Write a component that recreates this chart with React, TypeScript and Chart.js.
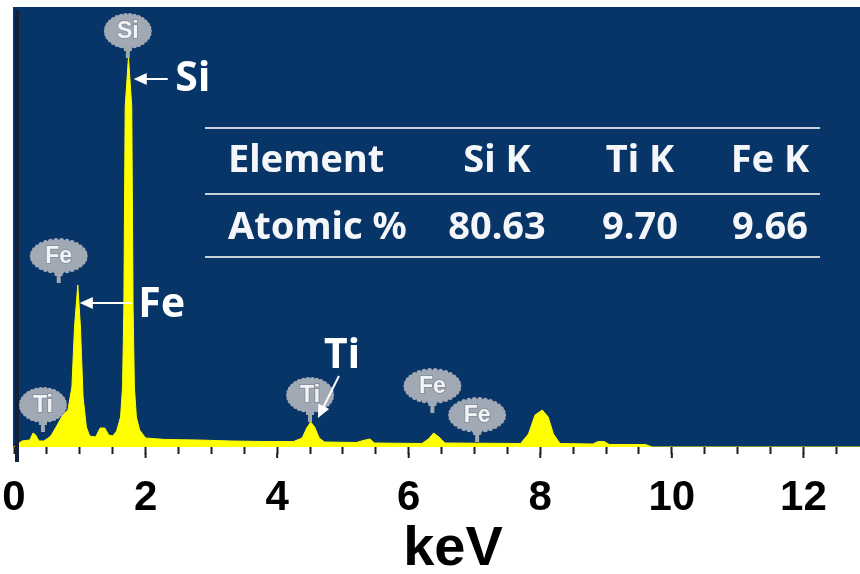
import React, { useEffect, useRef } from 'react';
import { Chart, registerables } from 'chart.js';

Chart.register(...registerables);

// EDS spectrum: photon energy (keV) and intensity (counts)
const energyKeV = [
  0, 0.06, 0.12, 0.24, 0.29, 0.33, 0.38, 0.45, 0.5, 0.56, 0.64, 0.74, 0.82, 0.88, 0.92, 0.97,
  1.01, 1.05, 1.1, 1.15, 1.24, 1.31, 1.38, 1.44, 1.5, 1.56, 1.62, 1.65, 1.67, 1.69, 1.74,
  1.79, 1.81, 1.83, 1.86, 1.91, 2.0, 2.3, 2.8, 3.3, 3.8, 4.25, 4.38, 4.45, 4.51, 4.57, 4.64,
  4.72, 5.2, 5.34, 5.41, 5.48, 6.2, 6.3, 6.38, 6.46, 6.55, 7.7, 7.82, 7.92, 8.03, 8.12, 8.2,
  8.3, 8.8, 8.88, 8.97, 9.05, 9.6, 9.7, 12.86,
];
const counts = [
  0, 30, 60, 70, 140, 120, 60, 60, 80, 110, 200, 320, 370, 600, 1200, 1620,
  1200, 500, 200, 110, 100, 190, 190, 120, 110, 160, 300, 600, 1400, 3400, 3900,
  3400, 1400, 600, 300, 170, 90, 75, 70, 60, 55, 55, 90, 190, 250, 200, 90,
  50, 45, 70, 80, 40, 35, 80, 140, 100, 40, 35, 130, 320, 370, 300, 130,
  35, 30, 55, 55, 25, 25, 0, 0,
];

const xTickLabels = [0, 2, 4, 6, 8, 10, 12];
const xAxisTitle = 'keV';

// Element markers on the spectrum
const markerElements = ['Ti', 'Fe', 'Si', 'Ti', 'Fe', 'Fe'];
const markerEnergies = [0.44, 0.68, 1.73, 4.5, 6.36, 7.04];
const markerCounts = [150, 1640, 3890, 250, 340, 50];

// Quantification table
const tableHeader = ['Element', 'Si K', 'Ti K', 'Fe K'];
const tableRowLabel = 'Atomic %';
const atomicPercent = ['80.63', '9.70', '9.66'];

// Arrow callouts: element, arrow tip (keV, counts)
const calloutElements = ['Si', 'Fe', 'Ti'];
const calloutEnergies = [1.82, 1.0, 4.62];
const calloutCounts = [3680, 1440, 290];

const BG_BLUE = '#073567';
const YELLOW = '#ffff00';
const BALLOON = '#a1a9b5';
const SANS = '"Noto Sans", "Open Sans", "Liberation Sans", sans-serif';
const AXIS_FONT = '"Liberation Sans", Arial, sans-serif';

function drawBalloon(ctx: CanvasRenderingContext2D, cx: number, bottom: number, label: string) {
  const w = label === 'Fe' ? 58 : 48;
  const h = 36;
  const stem = 9;
  const cy = bottom - stem - h / 2;
  ctx.save();
  ctx.fillStyle = BALLOON;
  ctx.fillRect(cx - 2, cy + h / 2 - 3, 4, stem + 3);
  ctx.fillRect(cx - 4, cy + h / 2 - 1, 8, 3);
  ctx.beginPath();
  ctx.ellipse(cx, cy, w / 2 - 2, h / 2 - 2, 0, 0, Math.PI * 2);
  ctx.fill();
  const n = 30;
  for (let i = 0; i < n; i++) {
    const a = (i / n) * Math.PI * 2;
    ctx.beginPath();
    ctx.arc(cx + Math.cos(a) * (w / 2 - 2.5), cy + Math.sin(a) * (h / 2 - 2.5), 2.5, 0, Math.PI * 2);
    ctx.fill();
  }
  ctx.font = 'bold 23px "Liberation Sans", sans-serif';
  ctx.textAlign = 'center';
  ctx.textBaseline = 'middle';
  ctx.lineWidth = 2;
  ctx.strokeStyle = '#8a929e';
  ctx.strokeText(label, cx, cy + 1);
  ctx.fillStyle = '#f2f3f6';
  ctx.fillText(label, cx, cy + 1);
  ctx.restore();
}

function drawArrow(ctx: CanvasRenderingContext2D, x0: number, y0: number, x1: number, y1: number) {
  const ang = Math.atan2(y1 - y0, x1 - x0);
  const head = 13;
  const half = 6;
  ctx.save();
  ctx.strokeStyle = '#ffffff';
  ctx.fillStyle = '#ffffff';
  ctx.lineWidth = 2;
  ctx.beginPath();
  ctx.moveTo(x0, y0);
  ctx.lineTo(x1 - Math.cos(ang) * head * 0.8, y1 - Math.sin(ang) * head * 0.8);
  ctx.stroke();
  ctx.beginPath();
  ctx.moveTo(x1, y1);
  ctx.lineTo(x1 - Math.cos(ang) * head - Math.sin(ang) * half, y1 - Math.sin(ang) * head + Math.cos(ang) * half);
  ctx.lineTo(x1 - Math.cos(ang) * head + Math.sin(ang) * half, y1 - Math.sin(ang) * head - Math.cos(ang) * half);
  ctx.closePath();
  ctx.fill();
  ctx.restore();
}

const decorPlugin = {
  id: 'edsDecor',
  beforeDraw(chart: any) {
    const { ctx, chartArea } = chart;
    ctx.save();
    ctx.fillStyle = '#ffffff';
    ctx.fillRect(0, 0, chart.width, chart.height);
    ctx.fillStyle = BG_BLUE;
    ctx.fillRect(chartArea.left - 1, chartArea.top, chartArea.right - chartArea.left + 1, chartArea.bottom - chartArea.top);
    ctx.restore();
  },
  afterDraw(chart: any) {
    const { ctx, chartArea } = chart;
    const xs = chart.scales.x;
    const ys = chart.scales.y;
    ctx.save();

    // left frame line
    ctx.fillStyle = '#14213a';
    ctx.fillRect(chartArea.left + 1, chartArea.top + 3, 4, chartArea.bottom - chartArea.top + 12);

    // longer marks at labelled ticks
    ctx.strokeStyle = '#1e1e1e';
    ctx.lineWidth = 2;
    xTickLabels.forEach((v) => {
      if (v === 0) return;
      const px = xs.getPixelForValue(v);
      ctx.beginPath();
      ctx.moveTo(px, chartArea.bottom + 6);
      ctx.lineTo(px, chartArea.bottom + 11);
      ctx.stroke();
    });

    // axis title
    ctx.font = `bold 56px ${AXIS_FONT}`;
    ctx.fillStyle = '#000000';
    ctx.textAlign = 'center';
    ctx.textBaseline = 'alphabetic';
    ctx.fillText(xAxisTitle, (chartArea.left + chartArea.right) / 2 + 16, 565);

    // element balloons
    markerElements.forEach((el, i) => {
      drawBalloon(ctx, xs.getPixelForValue(markerEnergies[i]), ys.getPixelForValue(markerCounts[i]), el);
    });

    // arrow callouts
    const tails = [[34, 0], [52, 0], [21, -42]];
    const texts = [[59, 0], [82, 2], [24, -62]];
    ctx.font = `bold 41px ${SANS}`;
    ctx.textAlign = 'center';
    ctx.textBaseline = 'middle';
    calloutElements.forEach((el, i) => {
      const tx = xs.getPixelForValue(calloutEnergies[i]);
      const ty = ys.getPixelForValue(calloutCounts[i]);
      drawArrow(ctx, tx + tails[i][0], ty + tails[i][1], tx, ty);
      ctx.fillStyle = '#ffffff';
      ctx.fillText(el, tx + texts[i][0], ty + texts[i][1]);
    });

    // quantification table
    const tLeft = 205;
    const tRight = 820;
    const rules = [128, 194, 257];
    ctx.strokeStyle = '#c8d0dc';
    ctx.lineWidth = 2;
    rules.forEach((y) => {
      ctx.beginPath();
      ctx.moveTo(tLeft, y);
      ctx.lineTo(tRight, y);
      ctx.stroke();
    });
    const colX = [228, 497, 640, 770];
    const rowY = [161, 228];
    ctx.font = `bold 38px ${SANS}`;
    ctx.fillStyle = '#f4f6f9';
    ctx.textBaseline = 'middle';
    const rows = [tableHeader, [tableRowLabel, ...atomicPercent]];
    rows.forEach((row, r) => {
      row.forEach((txt, c) => {
        ctx.textAlign = c === 0 ? 'left' : 'center';
        ctx.fillText(txt, colX[c], rowY[r]);
      });
    });

    ctx.restore();
  },
};

export default function App() {
  const canvasRef = useRef<HTMLCanvasElement | null>(null);

  useEffect(() => {
    if (!canvasRef.current) return;
    const chart = new Chart(canvasRef.current, {
      type: 'line',
      data: {
        datasets: [
          {
            data: energyKeV.map((e, i) => ({ x: e, y: counts[i] })),
            borderColor: YELLOW,
            backgroundColor: YELLOW,
            borderWidth: 1,
            pointRadius: 0,
            fill: 'origin',
            tension: 0,
          },
        ],
      },
      options: {
        animation: false,
        responsive: false,
        layout: { padding: { left: 14, top: 7, right: 0, bottom: 0 } },
        plugins: { legend: { display: false }, tooltip: { enabled: false } },
        scales: {
          x: {
            type: 'linear',
            min: 0,
            max: 12.86,
            afterFit: (scale: any) => {
              scale.height = 127;
              scale.paddingLeft = 0;
              scale.paddingRight = 0;
            },
            border: { display: false },
            grid: {
              drawOnChartArea: false,
              drawTicks: true,
              tickLength: 7,
              tickColor: '#1e1e1e',
              tickWidth: 2,
            },
            ticks: {
              stepSize: 0.5,
              autoSkip: false,
              maxRotation: 0,
              includeBounds: false,
              padding: 19,
              color: '#000000',
              font: { family: AXIS_FONT, size: 42, weight: 'bold' },
              callback: (v: any) => (xTickLabels.includes(Number(v)) ? String(v) : ''),
            },
            title: { display: false },
          },
          y: { display: false, min: 0, max: 4400 },
        },
      },
      plugins: [decorPlugin],
    });
    return () => chart.destroy();
  }, []);

  return (
    <div style={{ position: 'absolute', left: 0, top: 0, width: 860, height: 574 }}>
      <canvas ref={canvasRef} width={860} height={574} />
    </div>
  );
}
